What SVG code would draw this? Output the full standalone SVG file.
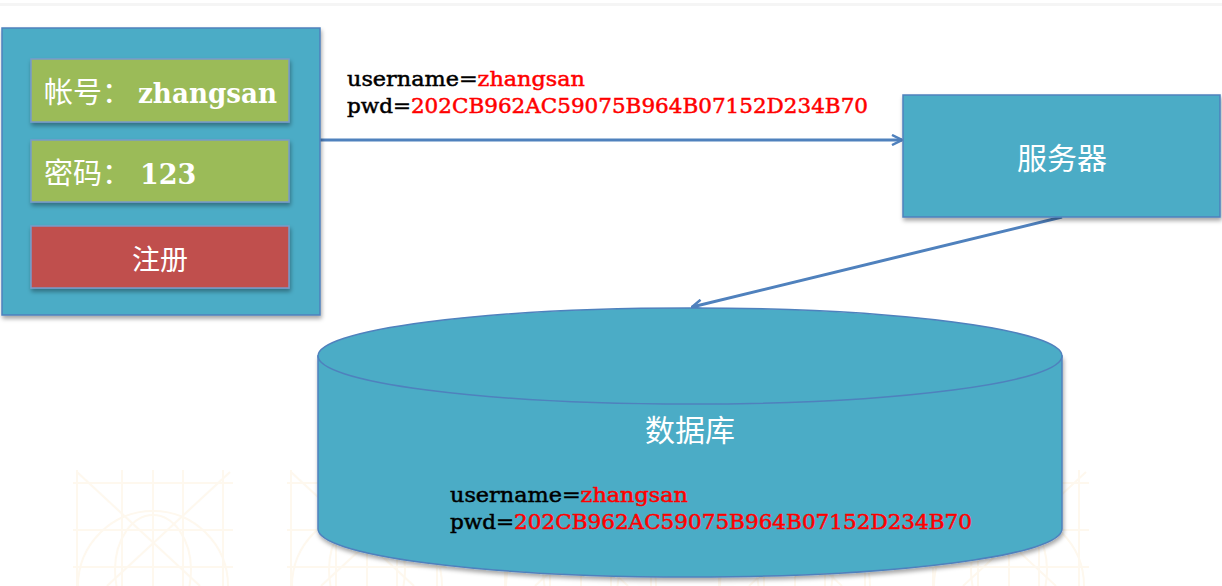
<svg xmlns="http://www.w3.org/2000/svg" width="1222" height="586" viewBox="0 0 1222 586">
<defs>
<style>
.box{fill:#4BACC6;stroke:#4F81BD;stroke-width:1.5;filter:url(#sh)}
.green{fill:#9BBB59;stroke:#7A9BC9;stroke-width:1.5;filter:url(#sh)}
.red{fill:#C0504D;stroke:#7A9BC9;stroke-width:1.5;filter:url(#sh)}
.wt{fill:#FFFFFF;font-family:"DejaVu Serif","Noto Sans CJK SC",serif;font-weight:bold;font-size:27px}
.cjk{fill:#FFFFFF;font-family:"Noto Sans CJK SC",sans-serif;font-size:28px;font-weight:normal}
.lbl{font-family:"DejaVu Serif","Liberation Serif",serif;font-size:21px;fill:#000000;stroke:#000000;stroke-width:0.5}
.r{fill:#FF0000;stroke:#FF0000}
.conn{stroke:#4F81BD;stroke-width:3;fill:none}
.wm{stroke:#FEF8EE;stroke-width:2;fill:none}
</style>
<filter id="sh" x="-10%" y="-10%" width="120%" height="130%">
<feDropShadow dx="1" dy="3" stdDeviation="2" flood-color="#000000" flood-opacity="0.35"/>
</filter>
<marker id="ah" viewBox="0 0 12 12" refX="11" refY="6" markerWidth="12" markerHeight="12" markerUnits="userSpaceOnUse" orient="auto">
<path d="M1,1 L11,6 L1,11" fill="none" stroke="#4F81BD" stroke-width="2.5"/>
</marker>
<g id="tile">
<line x1="73" y1="483" x2="233" y2="483"/>
<line x1="73" y1="530" x2="233" y2="530"/>
<line x1="73" y1="567" x2="233" y2="567"/>
<line x1="77" y1="470" x2="77" y2="586"/>
<line x1="122" y1="470" x2="122" y2="586"/>
<line x1="153" y1="470" x2="153" y2="586"/>
<line x1="183" y1="470" x2="183" y2="586"/>
<line x1="223" y1="470" x2="223" y2="586"/>
<line x1="77" y1="472" x2="200" y2="586"/>
<line x1="230" y1="472" x2="107" y2="586"/>
<circle cx="153" cy="586" r="75"/>
<ellipse cx="153" cy="570" rx="38" ry="55"/>
</g>
</defs>
<rect width="1222" height="586" fill="#FFFFFF"/>
<rect x="0" y="3" width="1222" height="3" fill="#F5F5F5"/>
<g id="watermark" class="wm">
<use href="#tile"/>
<use href="#tile" x="214"/>
<use href="#tile" x="428"/>
<use href="#tile" x="642"/>
<use href="#tile" x="856"/>
</g>
<g id="connectors">
<line class="conn" x1="320" y1="140" x2="902" y2="140" marker-end="url(#ah)"/>
<line class="conn" x1="1062" y1="217" x2="692" y2="307" marker-end="url(#ah)"/>
</g>
<g id="label-request">
<text class="lbl" x="347" y="86" textLength="238" lengthAdjust="spacingAndGlyphs">username=<tspan class="r">zhangsan</tspan></text>
<text class="lbl" x="347" y="113" textLength="521" lengthAdjust="spacingAndGlyphs">pwd=<tspan class="r">202CB962AC59075B964B07152D234B70</tspan></text>
</g>
<g id="client">
<rect class="box" x="2" y="28" width="318" height="287"/>
<g id="username-field">
<rect class="green" x="31" y="59" width="258" height="63"/>
<text class="wt" x="44" y="103"><tspan class="cjk" style="font-size:29px">帐号：</tspan><tspan x="138" textLength="139" lengthAdjust="spacingAndGlyphs">zhangsan</tspan></text>
</g>
<g id="password-field">
<rect class="green" x="31" y="140" width="258" height="62"/>
<text class="wt" x="44" y="184"><tspan class="cjk" style="font-size:29px">密码：</tspan><tspan x="140">123</tspan></text>
</g>
<g id="register-button">
<rect class="red" x="31" y="226" width="258" height="62"/>
<text class="cjk" x="160" y="270" text-anchor="middle">注册</text>
</g>
</g>
<g id="server">
<rect class="box" x="903" y="95" width="317" height="122"/>
<text class="cjk" x="1062" y="169" text-anchor="middle" style="font-size:30px">服务器</text>
</g>
<g id="database">
<path d="M318,356 L318,529 A372,48 0 0 0 1062,529 L1062,356 Z" fill="#4BACC6" stroke="#4F81BD" stroke-width="1.5" filter="url(#sh)"/>
<ellipse cx="690" cy="356" rx="372" ry="48" fill="#4BACC6" stroke="#4F81BD" stroke-width="1.5"/>
<text class="cjk" x="690" y="441" text-anchor="middle" style="font-size:30px">数据库</text>
<text class="lbl" x="450" y="502" textLength="238" lengthAdjust="spacingAndGlyphs">username=<tspan class="r">zhangsan</tspan></text>
<text class="lbl" x="450" y="529" textLength="522" lengthAdjust="spacingAndGlyphs">pwd=<tspan class="r">202CB962AC59075B964B07152D234B70</tspan></text>
</g>
</svg>
